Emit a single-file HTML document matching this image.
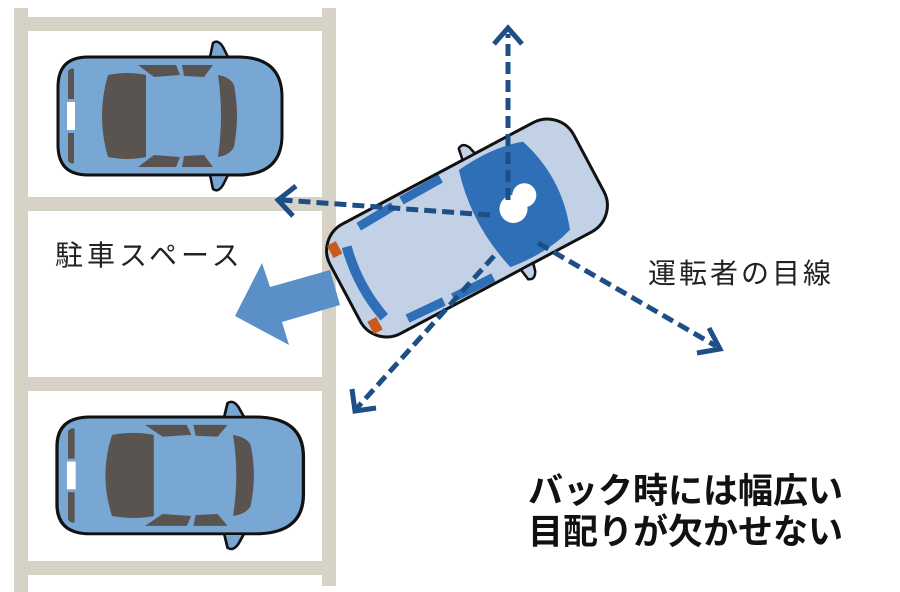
<!DOCTYPE html>
<html><head><meta charset="utf-8"><style>
html,body{margin:0;padding:0;background:#fff;}
svg{display:block;}
text{font-family:"Liberation Sans","Noto Sans CJK JP",sans-serif;}
</style></head><body>
<svg width="900" height="592" viewBox="0 0 900 592" xmlns="http://www.w3.org/2000/svg">
<defs>
<g id="car">
  <path d="M30,0 H180 Q224,0 224,40 V78 Q224,118 180,118 H30 Q0,118 0,88 V30 Q0,0 30,0 Z" fill="#79a7d3" stroke="#111" stroke-width="3"/>
  <path d="M152,0 L155,-14 Q160,-18 165,-10 L170,0 Z" fill="#79a7d3" stroke="#111" stroke-width="2.5"/>
  <path d="M152,118 L155,132 Q160,136 165,128 L170,118 Z" fill="#79a7d3" stroke="#111" stroke-width="2.5"/>
  <path d="M50,18 Q70,14 88,18 L88,100 Q70,104 50,100 Q38,59 50,18 Z" fill="#5a5450"/>
  <path d="M160,18 Q172,20 176,28 Q182,59 176,90 Q172,98 160,100 Q166,59 160,18 Z" fill="#5a5450"/>
  <path d="M80,8 L118,8 L122,18 L96,20 Z" fill="#5a5450"/>
  <path d="M124,8 L155,8 L146,20 L126,19 Z" fill="#5a5450"/>
  <path d="M80,110 L118,110 L122,100 L96,98 Z" fill="#5a5450"/>
  <path d="M124,110 L155,110 L146,98 L126,99 Z" fill="#5a5450"/>
  <path d="M10,14 Q14,10 16,12 V42 H10 Z" fill="#5a5450"/>
  <path d="M10,76 H16 V106 Q14,108 10,104 Z" fill="#5a5450"/>
  <rect x="9" y="45" width="8" height="28" fill="#fff"/>
</g>
</defs>

<g fill="#d6d2c6">
  <rect x="14" y="8" width="14" height="584"/>
  <rect x="322" y="8" width="14" height="578"/>
  <rect x="14" y="17" width="322" height="14"/>
  <rect x="14" y="197" width="322" height="14"/>
  <rect x="14" y="377" width="322" height="14"/>
  <rect x="14" y="561" width="322" height="14"/>
</g>

<use href="#car" transform="translate(58,57)"/>
<use href="#car" transform="translate(57,417) scale(1.1,0.99)"/>

<polygon points="235,316 262,263 270,287 330,270 340,305 282,322 289,345" fill="#5b8fc7"/>

<g transform="translate(467,228) rotate(-28)">
  <rect x="-138" y="-62" width="276" height="124" rx="30" fill="#c3d1e6" stroke="#111" stroke-width="3"/>
  <path d="M28,-62 L30,-74 Q36,-78 40,-70 L42,-62 Z" fill="#c3d1e6" stroke="#111" stroke-width="2.5"/>
  <path d="M28,62 L30,74 Q36,78 40,70 L42,62 Z" fill="#c3d1e6" stroke="#111" stroke-width="2.5"/>
  <path d="M20,-55 Q60,-60 90,-50 Q108,0 90,50 Q60,60 20,55 Q5,0 20,-55 Z" fill="#2f6fb7"/>
  <path d="M-115,-40 Q-124,0 -115,40" fill="none" stroke="#2f6fb7" stroke-width="10"/>
  <path d="M-95,-52 L-55,-54 M-45,-55 L0,-56 M-95,52 L-55,54 M-45,55 L0,56" stroke="#2f6fb7" stroke-width="9"/>
  <rect x="-132" y="-50" width="10" height="14" fill="#c85a20"/>
  <rect x="-132" y="36" width="10" height="14" fill="#c85a20"/>
  <circle cx="50" cy="5" r="14" fill="#fff"/>
  <circle cx="66" cy="-2" r="12" fill="#fff"/>
</g>

<g stroke="#1d4f86" stroke-width="5" fill="none" stroke-dasharray="12,6">
  <line x1="508" y1="200" x2="508" y2="34"/>
  <line x1="490" y1="215" x2="282" y2="200"/>
  <line x1="494" y1="256" x2="357" y2="408"/>
  <line x1="538" y1="243" x2="716" y2="346"/>
</g>
<g stroke="#1d4f86" stroke-width="5" fill="none" stroke-linejoin="miter">
  <polyline points="494,44 508,28 522,44"/>
  <polyline points="296,186 278,200 293,216"/>
  <polyline points="352,389 355,411 376,408"/>
  <polyline points="709,328 720,349 697,353"/>
</g>

<text x="55" y="265" font-size="28" letter-spacing="4" fill="#222">駐車スペース</text>
<text x="648" y="283" font-size="28" letter-spacing="3" fill="#222">運転者の目線</text>
<text x="528" y="503" font-size="35" font-weight="bold" fill="#111">バック時には幅広い</text>
<text x="528" y="544" font-size="35" font-weight="bold" fill="#111">目配りが欠かせない</text>
</svg>
</body></html>
